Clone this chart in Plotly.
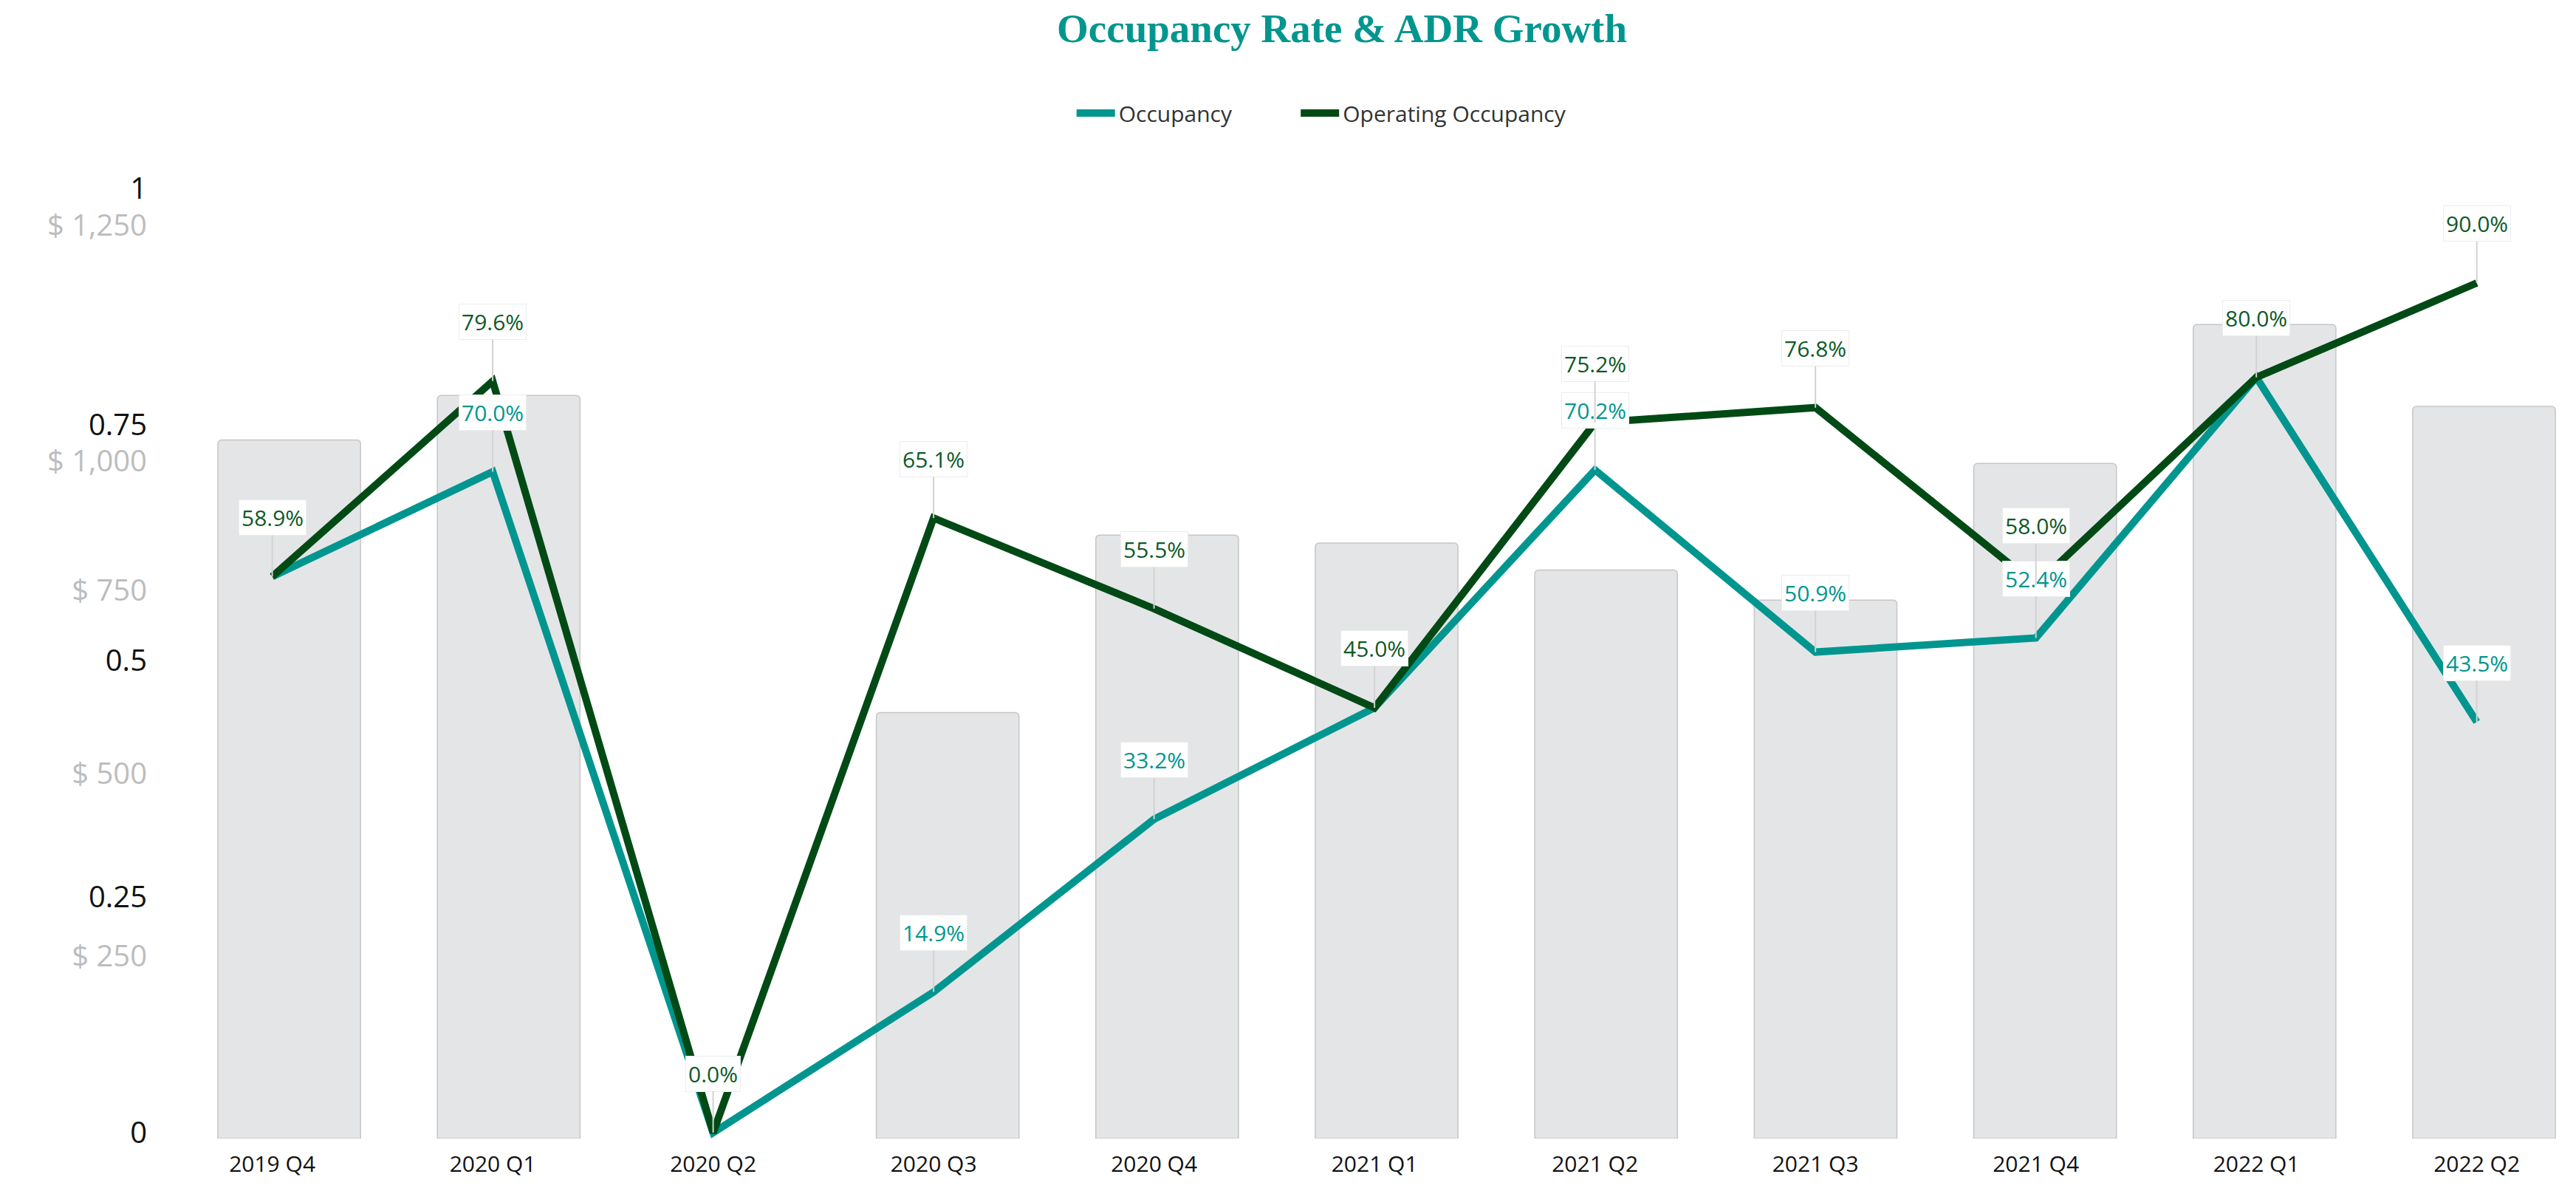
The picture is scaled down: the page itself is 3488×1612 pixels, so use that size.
import plotly.graph_objects as go

categories = ["2019 Q4", "2020 Q1", "2020 Q2", "2020 Q3", "2020 Q4", "2021 Q1",
              "2021 Q2", "2021 Q3", "2021 Q4", "2022 Q1", "2022 Q2"]
adr = [956, 1017, None, 583, 826, 815, 778, 737, 924, 1114, 1002]
occupancy = [0.589, 0.700, 0.0, 0.149, 0.332, 0.450, 0.702, 0.509, 0.524, 0.800, 0.435]
operating = [0.589, 0.796, 0.0, 0.651, 0.555, 0.450, 0.752, 0.768, 0.580, 0.800, 0.900]
occ_label_idx = [1, 3, 4, 6, 7, 8, 10]
# grey $ tick labels sit where the reference draws them (its $ 1,000 label is displaced)
adr_tickvals = [250, 500, 750, 927, 1250]
adr_ticktext = ["$ 250", "$ 500", "$ 750", "$ 1,000", "$ 1,250"]
occ_tickvals = [0, 0.25, 0.5, 0.75, 1]
occ_ticktext = ["0", "0.25", "0.5", "0.75", "1"]

TEAL = "#00968F"
DKGREEN = "#024A15"
LBLGREEN = "#0E5A26"

fig = go.Figure()
fig.add_trace(go.Bar(
    x=categories, y=adr, xaxis="x", yaxis="y", width=0.65,
    marker=dict(color="#E4E5E7", line=dict(color="#C6C6C6", width=1.5), cornerradius=5),
    showlegend=False, hoverinfo="skip"))
fig.add_trace(go.Scatter(
    x=categories, y=occupancy, xaxis="x2", yaxis="y2", mode="lines", name="Occupancy",
    line=dict(color=TEAL, width=10), showlegend=False))
fig.add_trace(go.Scatter(
    x=categories, y=operating, xaxis="x2", yaxis="y2", mode="lines", name="Operating Occupancy",
    line=dict(color=DKGREEN, width=10), showlegend=False))
# legend-only entries (thicker swatches, like the reference's rectangles)
fig.add_trace(go.Scatter(x=[None], y=[None], xaxis="x2", yaxis="y2", mode="lines",
                         name="Occupancy", line=dict(color=TEAL, width=18), legend="legend"))
fig.add_trace(go.Scatter(x=[None], y=[None], xaxis="x2", yaxis="y2", mode="lines",
                         name="Operating Occupancy", line=dict(color=DKGREEN, width=18),
                         legend="legend2"))

annotations = []
def lab(cat, val, color):
    return dict(xref="x2", yref="y2", x=cat, y=val, text=f"{val*100:.1f}%",
                showarrow=True, arrowhead=0, arrowwidth=2, arrowcolor="#D2D2D2",
                ax=0, ay=-80, standoff=0, startstandoff=0,
                bgcolor="white", bordercolor="#ECECEC", borderwidth=1, borderpad=3,
                font=dict(family="Open Sans", size=30, color=color))
for i in occ_label_idx:
    annotations.append(lab(categories[i], occupancy[i], TEAL))
for i in range(len(categories)):
    annotations.append(lab(categories[i], operating[i], LBLGREEN))

legend_style = dict(orientation="h", xanchor="left", y=1.035, yanchor="middle",
                    font=dict(family="Open Sans", size=30, color="#333333"),
                    itemwidth=52, bgcolor="rgba(0,0,0,0)")

fig.update_layout(
    width=3488, height=1612,
    paper_bgcolor="white", plot_bgcolor="rgba(0,0,0,0)",
    margin=dict(l=200, r=0, t=200, b=71, autoexpand=False),
    title=dict(text="Occupancy Rate & ADR Growth", x=0.4918, xref="paper",
               y=1 - 38 / 1612, yref="container", xanchor="center", yanchor="middle",
               font=dict(family="Liberation Serif", size=55, color=TEAL, weight="bold")),
    legend=dict(x=0.3810, **legend_style),
    legend2=dict(x=0.4733, **legend_style),
    bargap=0.35,
    xaxis=dict(type="category", range=[-0.6447, 10.419], showticklabels=False,
               showgrid=False, zeroline=False, showline=False, ticks=""),
    yaxis=dict(range=[0, 1356], tickvals=adr_tickvals, ticktext=adr_ticktext,
               tickfont=dict(family="Open Sans", size=40, color="#BDBDBD"),
               showgrid=False, zeroline=False, showline=False, ticks="", side="left"),
    xaxis2=dict(type="category", overlaying="x", anchor="y2", side="bottom",
                range=[-0.5648, 10.450], ticklabelstandoff=14,
                tickfont=dict(family="Open Sans", size=30, color="#111111"),
                showgrid=False, zeroline=False, showline=False, ticks=""),
    yaxis2=dict(overlaying="y", anchor="x2", side="left", range=[-0.00626, 1.0432],
                tickvals=occ_tickvals, ticktext=occ_ticktext,
                tickfont=dict(family="Open Sans", size=40, color="#111111"),
                showgrid=False, zeroline=False, showline=False, ticks=""),
    annotations=annotations,
)

fig.write_html("out.html", config={"displayModeBar": False},
               post_script="document.body.style.margin='0';")
